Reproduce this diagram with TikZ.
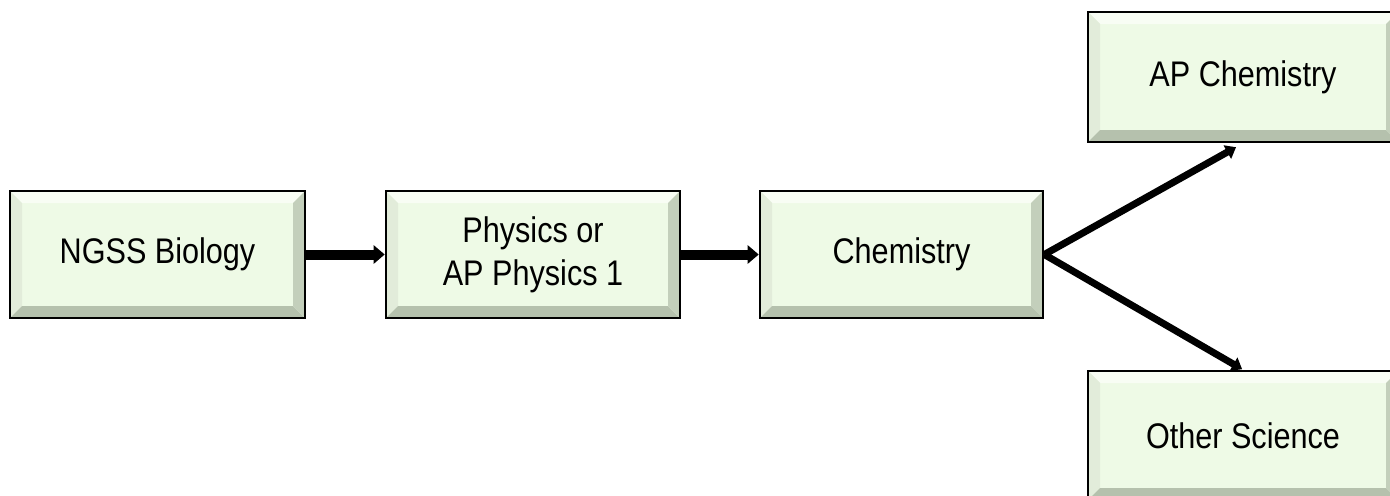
\documentclass[tikz,border=0pt]{standalone}
\usepackage{fontspec}
\setmainfont{Liberation Sans}[FakeStretch=0.86]
\usetikzlibrary{arrows.meta}
\definecolor{boxc}{HTML}{EEFAE6}
\definecolor{bevtop}{HTML}{F8FDF4}
\definecolor{bevleft}{HTML}{E2ECDA}
\definecolor{bevbot}{HTML}{B5C1AD}
\definecolor{bevright}{HTML}{C3CFBB}
\begin{document}
\begin{tikzpicture}[x=0.5pt,y=-0.5pt,
  box/.style={rectangle, draw=black, line width=1.3pt, fill=boxc, inner sep=0pt,
    align=center, font=\fontsize{17.8}{21.5}\selectfont,
    path picture={
      \def\b{6pt}
      \coordinate (NW) at (path picture bounding box.north west);
      \coordinate (NE) at (path picture bounding box.north east);
      \coordinate (SW) at (path picture bounding box.south west);
      \coordinate (SE) at (path picture bounding box.south east);
      \fill[bevtop] (NW) -- (NE) -- ([shift={(-\b,-\b)}]NE) -- ([shift={(\b,-\b)}]NW) -- cycle;
      \fill[bevleft] (NW) -- (SW) -- ([shift={(\b,\b)}]SW) -- ([shift={(\b,-\b)}]NW) -- cycle;
      \fill[bevbot] (SW) -- (SE) -- ([shift={(-\b,\b)}]SE) -- ([shift={(\b,\b)}]SW) -- cycle;
      \fill[bevright] (NE) -- (SE) -- ([shift={(-\b,\b)}]SE) -- ([shift={(-\b,-\b)}]NE) -- cycle;
    }},
  harrow/.style={line width=5pt, -{Triangle[width=9pt,length=5.5pt]}},
  darrow/.style={line width=3.5pt, -{Triangle[width=7.5pt,length=5pt]}}
]
\useasboundingbox (0,0) rectangle (1390,495);
\node[box, minimum width=147.5pt, minimum height=63.5pt] (bio) at (157.5,254.5) {NGSS Biology};
\node[box, minimum width=147pt, minimum height=63.5pt] (phys) at (533,254.5) {Physics or\\AP Physics 1};
\node[box, minimum width=141.5pt, minimum height=63.5pt] (chem) at (901.5,254.5) {Chemistry};
\node[box, minimum width=155pt, minimum height=65pt] (apchem) at (1243,77) {AP Chemistry};
\node[box, minimum width=155pt, minimum height=64.5pt] (other) at (1243,435.5) {Other Science};
\draw[harrow] (bio.east) -- (phys.west);
\draw[harrow] (phys.east) -- (chem.west);
\draw[darrow, shorten >=4pt] (chem.east) -- (apchem.south);
\draw[darrow, shorten >=0.5pt] (chem.east) -- (other.north);
\end{tikzpicture}
\end{document}
